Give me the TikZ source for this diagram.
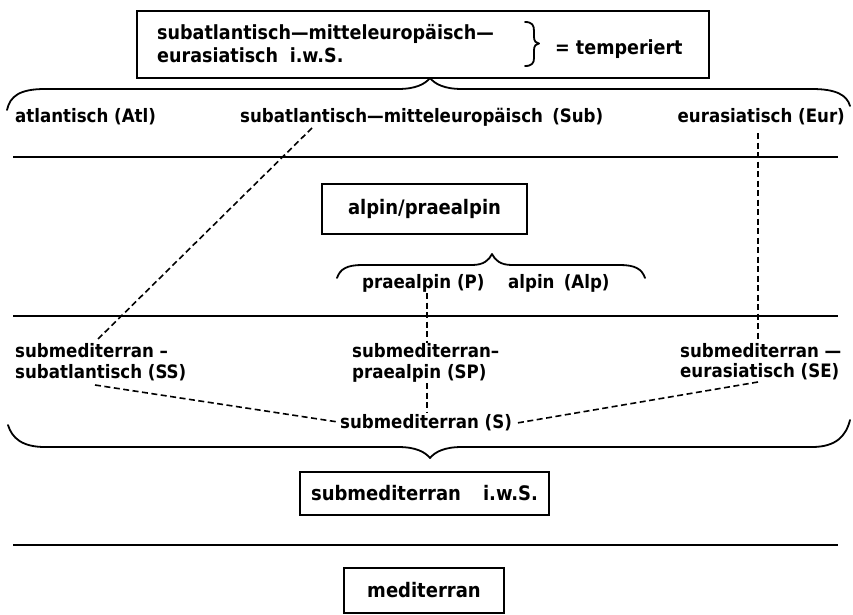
\documentclass[tikz,border=0pt]{standalone}
\usepackage{fontspec}
\setmainfont{DejaVu Sans Condensed}
\usetikzlibrary{calc}
\begin{document}
\begin{tikzpicture}[x=1pt,y=-1pt,
  lbl/.style={font=\fontsize{18.5}{21}\selectfont\bfseries,inner sep=0pt,anchor=base west},
  toptxt/.style={font=\fontsize{19.5}{24}\selectfont\bfseries,inner sep=0pt,anchor=base west},
  btxt/.style={font=\fontsize{20}{24}\selectfont\bfseries},
  frame/.style={draw,line width=1.8pt,inner sep=0pt},
  rule/.style={line width=1.8pt},
  brc/.style={line width=1.8pt,line cap=round,line join=round},
  dsh/.style={line width=1.6pt,dash pattern=on 6pt off 3.5pt}]
\useasboundingbox (0,0) rectangle (853,615);

% top box
\node[frame,minimum width=572pt,minimum height=67pt] (top) at (423,44.5) {};
\node[toptxt] (t1) at (157,40) {subatlantisch—mitteleuropäisch—};
\node[toptxt] (t2) at (157,63) {eurasiatisch\hspace{0.6em}i.w.S.};
\draw[brc] (525,22) .. controls (532,22) and (534,25) .. (534,31) -- (534,37)
  .. controls (534,41) and (536,43.5) .. (539,43.5)
  .. controls (536,43.5) and (534,46) .. (534,50) -- (534,58)
  .. controls (534,63) and (532,66) .. (525,66);
\node[toptxt] (temp) at (555,55) {= temperiert};

% big upper brace
\draw[brc] (7,110) .. controls (10,96) and (20,89) .. (45,89) -- (398,89)
  .. controls (416,89) and (425,84) .. (430,78)
  .. controls (435,84) and (444,89) .. (462,89) -- (812,89)
  .. controls (836,89) and (847,95) .. (850,106);

% row 1
\node[lbl] (atl) at (15,123) {atlantisch (Atl)};
\node[lbl] (sub) at (240,123) {subatlantisch—mitteleuropäisch\hspace{0.5em}(Sub)};
\node[lbl,anchor=base east] (eur) at (845,122) {eurasiatisch (Eur)};

\draw[rule] (13,157) -- (838,157);

% alpin box
\node[frame,btxt,minimum width=205pt,minimum height=50pt] (alp) at (424.5,209) {alpin/praealpin};

% small brace
\draw[brc] (337,278) .. controls (340,269) and (347,265) .. (362,265) -- (472,265)
  .. controls (484,265) and (489,260) .. (492,254)
  .. controls (495,260) and (500,265) .. (512,265) -- (620,265)
  .. controls (635,265) and (642,269) .. (645,278);
\node[lbl] (p) at (362,288) {praealpin (P)};
\node[lbl] (alpn) at (508,288) {alpin\hspace{0.5em}(Alp)};

\draw[rule] (13,316) -- (838,316);

% row 3
\node[lbl] (ss1) at (15,357) {submediterran –};
\node[lbl] (ss2) at (15,378) {subatlantisch (SS)};
\node[lbl] (sp1) at (352,357) {submediterran–};
\node[lbl] (sp2) at (352,378) {praealpin (SP)};
\node[lbl] (se1) at (680,357) {submediterran —};
\node[lbl] (se2) at (680,377) {eurasiatisch (SE)};
\node[lbl] (s) at (340,428) {submediterran (S)};

% bottom brace
\draw[brc] (8,425) .. controls (12,438) and (22,447) .. (45,447) -- (398,447)
  .. controls (416,447) and (425,452) .. (430,458)
  .. controls (435,452) and (444,447) .. (462,447) -- (812,447)
  .. controls (836,447) and (846,436) .. (850,420);

% submediterran i.w.S.
\node[frame,btxt,minimum width=249pt,minimum height=43pt] (smw) at (424.5,493.5) {submediterran\hspace{1.1em}i.w.S.};

\draw[rule] (13,545) -- (838,545);

\node[frame,btxt,minimum width=160pt,minimum height=45pt] (med) at (424,590.5) {mediterran};

% connector end points
\coordinate (subA) at ($(sub.base west)+(72,5)$);
\coordinate (ssA) at ($(ss1.base west)+(82,-17)$);
\coordinate (eurA) at ($(eur.base east)+(-87,11)$);
\coordinate (seA) at ($(se1.base west)+(78,-17)$);
\coordinate (pA) at ($(p.base west)+(65,5)$);
\coordinate (spA) at ($(sp1.base west)+(75,-14)$);
\coordinate (spB) at ($(sp2.base west)+(75,5)$);
\coordinate (sA) at ($(s.base west)+(87,-16)$);
\coordinate (ssB) at ($(ss2.base west)+(80,7)$);
\coordinate (sL) at ($(s.base west)+(-2,-6)$);
\coordinate (seB) at ($(se2.base west)+(78,5)$);
\coordinate (sR) at ($(s.base east)+(5,-5)$);

% dashed connectors
\draw[dsh] (subA) -- (ssA);
\draw[dsh] (eurA) -- (seA);
\draw[dsh] (pA) -- (spA);
\draw[dsh] (spB) -- (sA);
\draw[dsh] (ssB) -- (sL);
\draw[dsh] (seB) -- (sR);
\end{tikzpicture}
\end{document}
